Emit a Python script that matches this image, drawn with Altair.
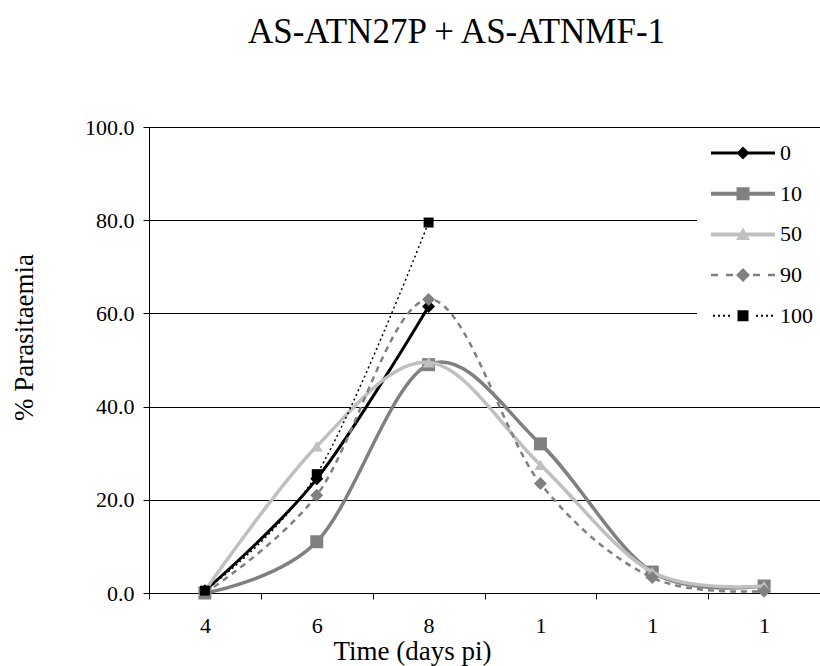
import altair as alt
import pandas as pd

# ---------------- data ----------------
days = ["4", "6", "8", "10", "12", "14"]
series_names = ["0", "10", "50", "90", "100"]
s0 = [0.5, 24.5, 61.5, None, None, None]
s10 = [0.0, 11.0, 49.0, 32.0, 4.5, 1.5]
s50 = [0.5, 31.5, 49.5, 27.5, 4.5, 1.5]
s90 = [0.0, 21.0, 63.0, 23.5, 3.3, 0.4]
s100 = [0.5, 25.5, 79.5, None, None, None]
y_ticks = [0, 20, 40, 60, 80, 100]

title_text = "AS-ATN27P + AS-ATNMF-1"
y_title = "% Parasitaemia"
x_title = "Time (days pi)"

rows = []
for name, vals in zip(series_names, [s0, s10, s50, s90, s100]):
    for d, v in zip(days, vals):
        if v is not None:
            rows.append({"series": name, "day": d, "value": v})
df = pd.DataFrame(rows)

# ---------------- styles ----------------
FONT = "Times New Roman, Liberation Serif, DejaVu Serif, serif"
styles = {
    "0": dict(color="#000000", width=3, dash=None, shape="diamond", size=169),
    "10": dict(color="#808080", width=3.5, dash=None, shape="square", size=169),
    "50": dict(color="#C0C0C0", width=3.5, dash=None, shape="triangle-up", size=144),
    "90": dict(color="#808080", width=2.5, dash=[6, 5], shape="diamond", size=169),
    "100": dict(color="#000000", width=1.5, dash=[2, 3], shape="square", size=100),
}

# legend symbol paths (unit = 8 px, symbol size 256)
U = 8.0


def rect(x0, x1, h):
    return f"M{x0/U:.3f},{-h/U:.3f}H{x1/U:.3f}V{h/U:.3f}H{x0/U:.3f}Z"


def diamond(r):
    r = r / U
    return f"M0,{-r:.3f}L{r:.3f},0L0,{r:.3f}L{-r:.3f},0Z"


def square(r):
    r = r / U
    return f"M{-r:.3f},{-r:.3f}H{r:.3f}V{r:.3f}H{-r:.3f}Z"


def triangle(r):
    r = r / U
    return f"M0,{-r:.3f}L{r:.3f},{0.8*r:.3f}H{-r:.3f}Z"


leg_paths = {
    "0": rect(-32, 32, 1.5) + diamond(6.5),
    "10": rect(-32, 32, 2) + square(6.5),
    "50": rect(-32, 32, 2) + triangle(7),
    "90": "".join(rect(a, b, 1.25) for a, b in [(-32, -25), (-17, -10), (10, 17), (25, 32)]) + diamond(7),
    "100": "".join(rect(c - 1, c + 1, 1) for c in [-29, -24, -19, -14, 14, 19, 24, 29]) + square(5.5),
}

x_enc = alt.X(
    "day:N",
    sort=days,
    bandPosition=0.5,
    scale=alt.Scale(type="band", domain=days, paddingInner=0, paddingOuter=0),
    axis=alt.Axis(
        title=x_title,
        tickBand="extent",
        labelExpr="substring(datum.label, 0, 1)",
        labelAngle=0,
        labelPadding=16,
        tickSize=6,
        grid=False,
        titleX=263,
        titleY=58,
        titleBaseline="middle",
    ),
)
y_enc = alt.Y(
    "value:Q",
    scale=alt.Scale(domain=[0, 100], nice=False),
    axis=alt.Axis(
        values=y_ticks,
        format=".1f",
        title=y_title,
        grid=True,
        labelPadding=9,
        tickSize=6,
        titleX=-125,
        titleY=210,
        titleBaseline="middle",
    ),
)

layers = []
for name in series_names:
    st = styles[name]
    line_kw = dict(interpolate="cardinal", color=st["color"], strokeWidth=st["width"])
    if st["dash"] is not None:
        line_kw["strokeDash"] = st["dash"]
    base = alt.Chart(df).transform_filter(alt.datum.series == name)
    layers.append(base.mark_line(**line_kw).encode(x=x_enc, y=y_enc))
    layers.append(
        base.mark_point(shape=st["shape"], filled=True, size=st["size"], color=st["color"], opacity=1)
        .encode(x=x_enc, y=y_enc)
    )

leg_common = dict(
    title=None,
    orient="none",
    legendX=548,
    legendY=7,
    fillColor="white",
    padding=8,
    symbolSize=256,
    symbolStrokeWidth=0,
    symbolOpacity=1,
    symbolOffset=27,
    labelOffset=26,
    labelFont=FONT,
    labelFontSize=22,
    labelColor="black",
    rowPadding=18.7,
)
legend_layer = (
    alt.Chart(pd.DataFrame({"series": series_names}))
    .transform_filter("false")
    .mark_point(filled=True, opacity=1)
    .encode(
        color=alt.Color(
            "series:N",
            scale=alt.Scale(domain=series_names, range=[styles[n]["color"] for n in series_names]),
            legend=alt.Legend(**leg_common),
        ),
        shape=alt.Shape(
            "series:N",
            scale=alt.Scale(domain=series_names, range=[leg_paths[n] for n in series_names]),
            legend=alt.Legend(**leg_common),
        ),
    )
)
layers.append(legend_layer)

chart = (
    alt.layer(*layers)
    .properties(
        width=671,
        height=466,
        padding={"left": 149, "top": 127, "right": 0, "bottom": 73},
        autosize=alt.AutoSizeParams(type="none"),
        title=alt.TitleParams(
            text=title_text,
            font=FONT,
            fontSize=35,
            fontWeight="normal",
            color="black",
            anchor="middle",
            frame="group",
            dx=-28,
            offset=66,
        ),
    )
    .configure_view(stroke=None)
    .configure_axis(
        labelFont=FONT,
        labelFontSize=22,
        labelColor="black",
        titleFont=FONT,
        titleFontSize=27,
        titleFontWeight="normal",
        titleColor="black",
        domainColor="black",
        domainWidth=1,
        tickColor="black",
        tickWidth=1,
        gridColor="black",
        gridWidth=1,
    )
)

chart.save("out.html", embed_options={"renderer": "svg", "actions": False})
